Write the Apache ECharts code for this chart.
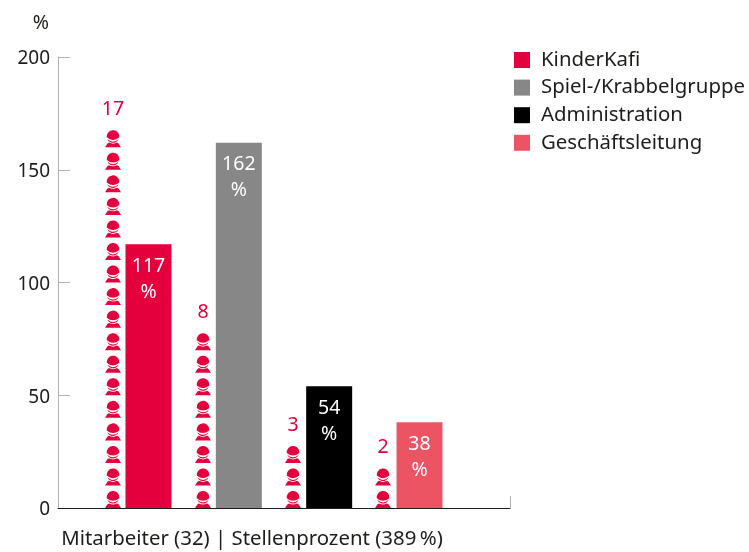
<!DOCTYPE html>
<html>
<head>
<meta charset="utf-8">
<title>Mitarbeiter und Stellenprozent</title>
<style>
html, body { margin: 0; height: 100%; background: #fff; }
#main { width: 749px; height: 552px; }
</style>
</head>
<body>
<div id="main"></div>
<script src="https://cdn.jsdelivr.net/npm/echarts@6/dist/echarts.min.js"></script>
<script>
var categories = ['Mitarbeiter (32) | Stellenprozent (389\u2009%)'];
var seriesNames = ['KinderKafi', 'Spiel-/Krabbelgruppe', 'Administration', 'Geschäftsleitung'];
var percentValues = [117, 162, 54, 38];
var peopleCounts = [17, 8, 3, 2];
var yTicks = [0, 50, 100, 150, 200];
var colors = ['#e4003c', '#878787', '#000000', '#ec5463'];

var personUnit = 10; // one figure stands for 10 on the y axis
var personPath = 'path://M1.75 7.2A6.3 6.3 0 1 1 14.25 7.2Q8 12.2 1.75 7.2Z' +
	'M2.26 8.9Q8 14 13.74 8.9A6.3 6.3 0 0 1 2.26 8.9Z' +
	'M4 12.4Q8 14.6 12 12.4L13.5 13.2L16 17H0L2.5 13.2Z';
var personOffsets = [-171, -81, 9, 99];

var fontName = '"Noto Sans", sans-serif';
var textColor = '#1d1d1b';
var axisGrey = '#b2b2b2';
var myChart = echarts.init(document.getElementById('main'));

var series = [];
seriesNames.forEach(function(name, i) {
	series.push({
		name: name,
		type: 'bar',
		barWidth: 46,
		barGap: '96.4%',
		itemStyle: { color: colors[i] },
		label: {
			show: true,
			position: 'insideTop',
			distance: 9,
			color: '#fff',
			fontFamily: fontName,
			fontSize: 19.5,
			lineHeight: 26,
			formatter: '{c}\n%'
		},
		data: [percentValues[i]]
	});
});
peopleCounts.forEach(function(count, i) {
	series.push({
		name: 'people' + i,
		type: 'pictorialBar',
		symbol: personPath,
		symbolSize: [16, 17],
		symbolRepeat: count,
		symbolBoundingData: count * personUnit,
		symbolMargin: '0!',
		symbolPosition: 'start',
		symbolOffset: [personOffsets[i], 2.8],
		itemStyle: { color: colors[0] },
		silent: true,
		z: 3,
		label: {
			show: true,
			position: 'top',
			distance: 5,
			offset: [personOffsets[i], 0],
			color: colors[0],
			fontFamily: fontName,
			fontSize: 19.5,
			formatter: String(count)
		},
		data: [count * personUnit]
	});
});

var option = {
	animation: false,
	textStyle: { fontFamily: fontName },
	grid: { left: 58, top: 57, width: 452, height: 451 },
	legend: {
		left: 509,
		top: 45,
		orient: 'vertical',
		data: seriesNames,
		icon: 'rect',
		itemWidth: 16,
		itemHeight: 16,
		itemGap: 7.6,
		textStyle: { fontSize: 20.4, color: textColor, padding: [0, 0, 0, 6] }
	},
	xAxis: {
		type: 'category',
		z: 2,
		data: categories,
		axisLine: { lineStyle: { color: textColor, width: 1 } },
		axisTick: { show: true, inside: true, length: 12, lineStyle: { color: axisGrey } },
		axisLabel: {
			margin: 21,
			color: textColor,
			fontSize: 20.4,
			padding: [0, 64, 0, 0]
		}
	},
	yAxis: {
		type: 'value',
		z: 1,
		min: yTicks[0],
		max: yTicks[yTicks.length - 1],
		interval: yTicks[1] - yTicks[0],
		name: '%',
		nameGap: 24,
		nameTextStyle: { color: textColor, fontSize: 19.5, align: 'right', padding: [0, 9, 0, 0] },
		axisLine: { show: true, lineStyle: { color: axisGrey } },
		axisTick: { show: true, length: 12, inside: true, lineStyle: { color: axisGrey } },
		axisLabel: {
			margin: 8,
			formatter: '{n|{value}}',
			rich: { n: { color: textColor, fontSize: 19, padding: [4, 0, 0, 0] } }
		},
		splitLine: { show: false }
	},
	series: series
};
myChart.setOption(option);
</script>
</body>
</html>
